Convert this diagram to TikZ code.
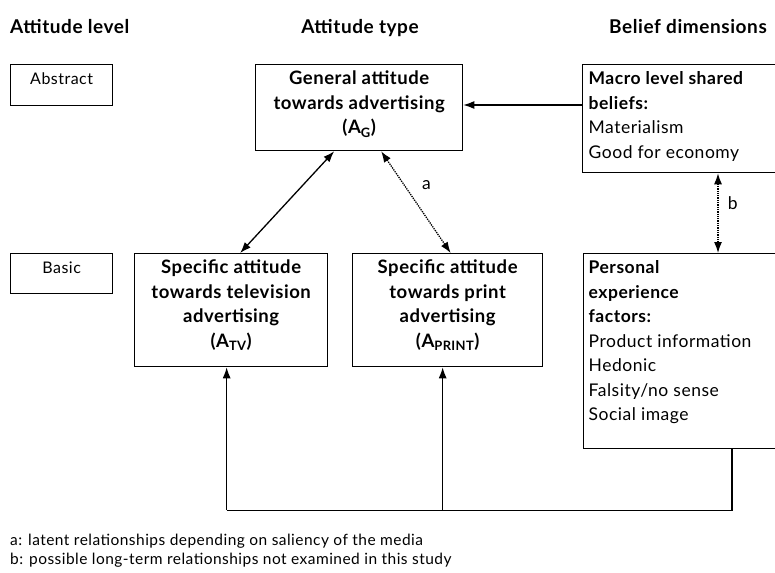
\documentclass[tikz,border=0pt]{standalone}
\usepackage{fontspec}
\setmainfont{Lato}[LetterSpace=3]
\usetikzlibrary{arrows.meta,calc}

% text block of fixed size, first line set a little below the top edge
\newcommand\cellbox[4]{\parbox[c][#2][t]{#1}{#3\vspace*{3pt}\strut #4}}

\tikzset{
  x=1pt, y=-1pt,
  frame/.style={draw, line width=1.3pt, inner sep=0pt, anchor=north west},
  boldtext/.style={font=\fontsize{18.5}{24.5}\selectfont\bfseries},
  plaintext/.style={font=\fontsize{17.5}{24.5}\selectfont},
  leveltext/.style={font=\fontsize{16}{24.5}\selectfont},
  head/.style={font=\fontsize{19}{22}\selectfont\bfseries, anchor=base west, inner sep=0pt},
  note/.style={font=\fontsize{15.5}{18}\selectfont, anchor=base west, inner sep=0pt},
  wire/.style={line width=1.3pt},
  link/.style={wire, -{Latex[length=11pt,width=8pt]}},
  twoway/.style={wire, {Latex[length=11pt,width=8pt]}-{Latex[length=11pt,width=8pt]}},
  dotlink/.style={twoway, densely dotted},
}

\begin{document}
\begin{tikzpicture}
\path[use as bounding box, fill=white] (0,0) rectangle (775,572);

% column headings
\node[head] (hlevel) at (10,34) {Attitude level};
\node[head, anchor=base] (htype) at (360,34) {Attitude type};
\node[head, anchor=base] (hbelief) at (688,34) {Belief dimensions};

% attitude levels
\node[frame, leveltext] (abstract) at (10,64)
  {\cellbox{102pt}{41pt}{\centering}{Abstract}};
\node[frame, leveltext] (basic) at (10,253)
  {\cellbox{102pt}{40pt}{\centering}{Basic}};

% attitude types
\node[frame, boldtext] (general) at (255,64)
  {\cellbox{207pt}{86pt}{\centering}{General attitude\\ towards advertising\\ (A\textsubscript{G})}};
\node[frame, boldtext] (tv) at (134,253)
  {\cellbox{193pt}{113pt}{\centering}{Specific attitude\\ towards television\\ advertising\\ (A\textsubscript{TV})}};
\node[frame, boldtext] (print) at (352,253)
  {\cellbox{190pt}{113pt}{\centering}{Specific attitude\\ towards print\\ advertising\\ (A\textsubscript{PRINT})}};

% belief dimensions
\node[frame, plaintext] (macro) at (582,64)
  {\cellbox{200pt}{108pt}{\raggedright\leftskip=6pt}{\textbf{Macro level shared}\\ \textbf{beliefs:}\\ Materialism\\ Good for economy}};
\node[frame, plaintext] (personal) at (583,253)
  {\cellbox{200pt}{195pt}{\raggedright\leftskip=5pt}{\textbf{Personal}\\ \textbf{experience}\\ \textbf{factors:}\\ Product information\\ Hedonic\\ Falsity/no sense\\ Social image}};

% macro beliefs feed the general attitude
\coordinate (mfrom) at ($(macro.north west)+(0,41)$);
\draw[link] (mfrom) -- (mfrom -| general.east);

% general <-> specific attitudes
\draw[twoway] ($(general.south)+(-25,0)$) -- ($(tv.north)+(9,0)$);
\draw[dotlink] ($(general.south)+(22,0)$) -- ($(print.north)+(3,0)$)
  node[pos=0.33, right=14pt, plaintext] (la) {a};

% macro beliefs <-> personal experience
\coordinate (btop) at ($(macro.south west)+(136,0)$);
\draw[dotlink] (btop) -- (btop |- personal.north)
  node[pos=0.38, right=6pt, plaintext] (lb) {b};

% personal experience feeds both specific attitudes
\coordinate (pout) at ($(personal.south west)+(149,0)$);
\coordinate (busL) at ($(tv.south)+(-4.5,143)$);
\coordinate (ptip) at ($(print.south)+(-5,0)$);
\draw[wire] (pout) |- (busL);
\draw[link] (busL) -- (busL |- tv.south);
\draw[link] (ptip |- busL) -- (ptip);

% footnotes
\node[note] (na) at (10,545) {a: latent relationships depending on saliency of the media};
\node[note] (nb) at (10,564) {b: possible long-term relationships not examined in this study};
\end{tikzpicture}
\end{document}
